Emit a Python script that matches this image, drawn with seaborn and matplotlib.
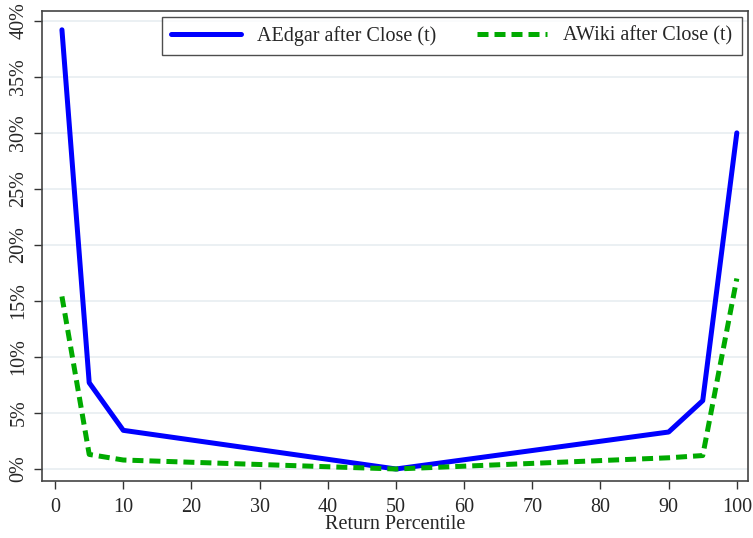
import matplotlib
matplotlib.use("Agg")
import matplotlib.pyplot as plt
import matplotlib.ticker as mticker
from matplotlib.lines import Line2D
import seaborn as sns
import pandas as pd

# Return percentiles and share of abnormal activity after the close
percentiles = [1, 5, 10, 50, 90, 95, 100]
edgar_after_close = [39.2, 7.7, 3.45, 0.0, 3.3, 6.1, 30.0]
wiki_after_close = [15.4, 1.3, 0.8, 0.0, 1.0, 1.2, 17.0]

series_names = ["AEdgar after Close (t)", "AWiki after Close (t)"]
x_ticks = list(range(0, 101, 10))
y_ticks = list(range(0, 41, 5))

sns.set_theme(style="white")
plt.rcParams["font.family"] = ["Liberation Serif", "DejaVu Serif"]

df = pd.DataFrame({
    "pct": percentiles * 2,
    "value": edgar_after_close + wiki_after_close,
    "series": [series_names[0]] * len(percentiles) + [series_names[1]] * len(percentiles),
})

fig = plt.figure(figsize=(7.53, 5.38), dpi=100)
ax = fig.add_axes([0.056, 0.106, 0.937, 0.874])

for y in y_ticks:
    ax.axhline(y, color="#e8eef1", lw=1.2, zorder=0)

blue, green = "#0000ff", "#00aa00"
palette = {series_names[0]: blue, series_names[1]: green}
sns.lineplot(data=df, x="pct", y="value", hue="series", style="series",
             palette=palette, dashes={series_names[0]: "", series_names[1]: (2.2, 1.2)},
             linewidth=3.6, ax=ax, legend=False)

ax.set_xlim(-1.9, 101.6)
ax.set_ylim(-1.07, 40.9)
ax.set_xticks(x_ticks)
ax.set_yticks(y_ticks)
ax.yaxis.set_major_formatter(mticker.FuncFormatter(lambda v, p: f"{int(v)}%"))
ax.tick_params(axis="both", which="major", direction="out", length=6, width=1,
               color="#333333", labelsize=14.5, bottom=True, left=True)
ax.tick_params(axis="x", pad=6)
ax.tick_params(axis="y", pad=4)
plt.setp(ax.get_yticklabels(), rotation=90, va="center")
ax.set_xlabel("Return Percentile", fontsize=14.5, labelpad=-1)
ax.set_ylabel("")
for s in ax.spines.values():
    s.set_color("#444444")
    s.set_linewidth(1.2)

handles = [
    Line2D([], [], color=blue, lw=3.6),
    Line2D([], [], color=green, lw=3.6, dashes=(2.2, 1.2)),
]
leg = ax.legend(handles, series_names, loc="upper right", ncol=2, fontsize=14.5,
                frameon=True, fancybox=False, edgecolor="#222222",
                handlelength=3.5, handletextpad=0.8, columnspacing=2.0,
                borderpad=0.45, borderaxespad=0.3,
                bbox_to_anchor=(1.0, 1.0))
leg.get_frame().set_linewidth(1.0)

fig.savefig("out.png", dpi=100, facecolor="white")
